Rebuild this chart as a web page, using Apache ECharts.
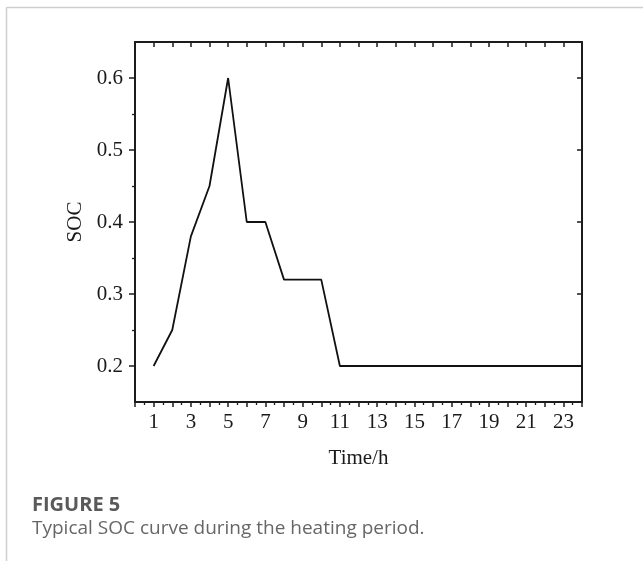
<!DOCTYPE html>
<html>
<head>
<meta charset="utf-8">
<script src="https://cdn.jsdelivr.net/npm/echarts@6/dist/echarts.min.js"></script>
<style>
  html, body { margin: 0; padding: 0; background: #fff; }
  #container { width: 643px; height: 561px; }
</style>
</head>
<body>
<div id="container"></div>
<script>
// 时间 (h) 与 SOC 数据
const hours = [1, 2, 3, 4, 5, 6, 7, 8, 9, 10, 11, 12, 13, 14, 15, 16, 17, 18, 19, 20, 21, 22, 23, 24]
const soc = [0.2, 0.25, 0.38, 0.45, 0.6, 0.4, 0.4, 0.32, 0.32, 0.32, 0.2, 0.2, 0.2, 0.2, 0.2, 0.2, 0.2, 0.2, 0.2, 0.2, 0.2, 0.2, 0.2, 0.2]
const yMajor = [0.2, 0.3, 0.4, 0.5, 0.6]
const yMinor = [0.25, 0.35, 0.45, 0.55]

const serif = 'Liberation Serif'
const axisColor = '#1c1c1c'

var myChart = echarts.init(document.getElementById('container'))

myChart.setOption({
  animation: false,
  grid: {
    left: 135,
    top: 42,
    right: 61,
    bottom: 159,
    containLabel: false
  },
  xAxis: [
    {
      type: 'value',
      position: 'bottom',
      min: 0,
      max: 24,
      interval: 1,
      name: 'Time/h',
      nameLocation: 'middle',
      nameGap: 46,
      nameTextStyle: { fontFamily: serif, fontSize: 21, color: '#1a1a1a' },
      axisLine: { lineStyle: { color: axisColor, width: 2 } },
      axisTick: { inside: false, length: 5, lineStyle: { color: axisColor, width: 1.5 } },
      minorTick: { show: true, splitNumber: 2, length: 3, lineStyle: { color: axisColor, width: 1.3 } },
      axisLabel: {
        margin: 10,
        fontFamily: serif,
        fontSize: 21,
        color: '#1a1a1a',
        formatter: (v) => (v % 2 === 1 ? String(v) : '')
      },
      splitLine: { show: false }
    },
    {
      type: 'value',
      position: 'top',
      min: 0,
      max: 24,
      interval: 1,
      axisLine: { lineStyle: { color: axisColor, width: 2 } },
      axisTick: { inside: true, length: 5, lineStyle: { color: axisColor, width: 1.5 } },
      axisLabel: { show: false },
      splitLine: { show: false }
    }
  ],
  yAxis: [
    {
      type: 'value',
      position: 'left',
      min: 0.15,
      max: 0.65,
      name: 'SOC',
      nameLocation: 'middle',
      nameGap: 47,
      nameRotate: 90,
      nameTextStyle: { fontFamily: serif, fontSize: 21, color: '#1a1a1a' },
      axisLine: { show: true, lineStyle: { color: axisColor, width: 2 } },
      axisTick: { show: true, inside: false, length: 6, customValues: yMajor, lineStyle: { color: axisColor, width: 1.5 } },
      axisLabel: {
        margin: 12,
        fontFamily: serif,
        fontSize: 21,
        color: '#1a1a1a',
        customValues: yMajor,
        formatter: (v) => v.toFixed(1)
      },
      splitLine: { show: false }
    },
    {
      type: 'value',
      position: 'left',
      min: 0.15,
      max: 0.65,
      axisLine: { show: false },
      axisTick: { show: true, inside: false, length: 3, customValues: yMinor, lineStyle: { color: axisColor, width: 1.3 } },
      axisLabel: { show: false },
      splitLine: { show: false }
    },
    {
      type: 'value',
      position: 'right',
      min: 0.15,
      max: 0.65,
      axisLine: { show: true, lineStyle: { color: axisColor, width: 2 } },
      axisTick: { show: true, inside: true, length: 5, customValues: yMajor, lineStyle: { color: axisColor, width: 1.5 } },
      axisLabel: { show: false },
      splitLine: { show: false }
    }
  ],
  series: [
    {
      name: 'SOC',
      type: 'line',
      xAxisIndex: 0,
      yAxisIndex: 0,
      data: hours.map((h, i) => [h, soc[i]]),
      symbol: 'none',
      lineStyle: { color: '#111', width: 1.8 }
    }
  ],
  graphic: [
    // 外框线
    { type: 'line', shape: { x1: 6.5, y1: 7.5, x2: 643, y2: 7.5 }, style: { stroke: '#cfcfcf', lineWidth: 1.5 } },
    { type: 'line', shape: { x1: 6.5, y1: 7.5, x2: 6.5, y2: 561 }, style: { stroke: '#cfcfcf', lineWidth: 1.5 } },
    // 图注
    {
      type: 'text',
      x: 32,
      y: 505,
      style: { text: 'FIGURE 5', font: 'bold 20px "Open Sans"', fill: '#5a5a5a', verticalAlign: 'middle' }
    },
    {
      type: 'text',
      x: 32,
      y: 529,
      style: { text: 'Typical SOC curve during the heating period.', font: '19px "Open Sans"', fill: '#666', verticalAlign: 'middle' }
    }
  ]
})
</script>
</body>
</html>
